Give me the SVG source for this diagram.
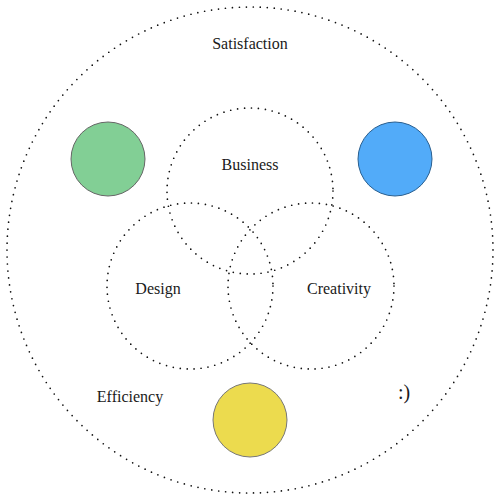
<svg xmlns="http://www.w3.org/2000/svg" width="500" height="502" viewBox="0 0 500 502">
<style>
.dot{fill:none;stroke:#111;stroke-width:1.7;stroke-linecap:round;stroke-dasharray:0 7}
.lbl{font-family:"Liberation Serif","DejaVu Serif",serif;font-size:16px;fill:#1a1a1a;text-anchor:middle}
.ball{stroke-width:1}
</style>
<rect width="500" height="502" fill="#fff"/>
<g id="satisfaction">
<circle class="dot" cx="250" cy="250" r="243"/>
<text class="lbl" x="250" y="49">Satisfaction</text>
</g>
<g id="business">
<circle class="dot" cx="250" cy="191" r="83"/>
<text class="lbl" x="250" y="170">Business</text>
</g>
<g id="design">
<circle class="dot" cx="190" cy="286" r="83"/>
<text class="lbl" x="158" y="294">Design</text>
</g>
<g id="creativity">
<circle class="dot" cx="311" cy="286" r="83"/>
<text class="lbl" x="339" y="294">Creativity</text>
</g>
<g id="green"><circle class="ball" cx="108" cy="159" r="37" fill="#82CF95" stroke="#666"/></g>
<g id="blue"><circle class="ball" cx="395" cy="159" r="37" fill="#52ABF9" stroke="#2a5f8f"/></g>
<g id="yellow"><circle class="ball" cx="250" cy="420" r="37" fill="#ECDB4E" stroke="#777"/></g>
<g id="efficiency"><text class="lbl" x="130" y="402">Efficiency</text></g>
<g id="smile"><text class="lbl" x="404" y="399" style="font-size:20px">:)</text></g>
<g id="connectors"></g>
</svg>
